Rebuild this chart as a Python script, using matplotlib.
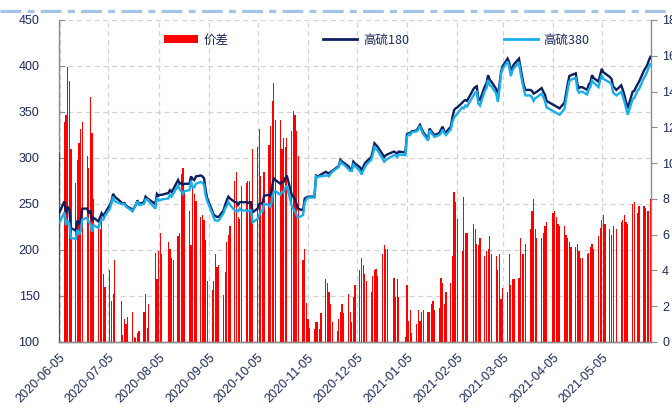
import numpy as np
import pandas as pd
import matplotlib
matplotlib.use('Agg')
import matplotlib.pyplot as plt
from matplotlib.lines import Line2D
from matplotlib.patches import Patch

# ---------------- data ----------------
holidays = ['2020-07-10', '2020-07-31', '2020-08-10', '2020-12-25', '2021-01-01',
            '2021-02-12', '2021-04-02', '2021-05-13', '2021-05-26']
dates = pd.bdate_range('2020-06-05', '2021-06-04').difference(pd.to_datetime(holidays))

hs180 = [241,
         253, 240, 247, 244, 224,
         221, 232, 228, 232, 245,
         245, 240, 243, 232, 235,
         231, 236, 240, 237, 240,
         249, 253, 261, 258,
         252, 250, 251, 248, 247,
         244, 246, 249, 254, 250,
         252, 258, 256, 255,
         250, 261, 259, 260, 260,
         262, 265, 263, 266,
         276, 272, 273, 271, 272,
         272, 280, 277, 276, 280,
         281, 280, 278, 265, 256,
         243, 238, 237, 236, 236,
         243, 249, 254, 258, 256,
         252, 252, 249, 252, 252,
         252, 251, 252, 251, 241,
         245, 250, 251, 250, 259,
         260, 258, 270, 278, 276,
         272, 274, 274, 278, 281,
         260, 258, 255, 250, 245,
         243, 256, 257, 258, 258,
         258, 281, 280, 281, 282,
         285, 284, 283, 285, 286,
         290, 291, 298, 296, 295,
         291, 288, 287, 296, 294,
         290, 287, 290, 294, 296,
         301, 308, 316, 314, 312,
         304, 301, 303, 304,
         307, 306, 305, 307,
         306, 326, 327, 327, 329,
         330, 333, 336, 332, 328,
         321, 332, 329, 327, 325,
         327, 331, 334, 329, 328,
         334, 344, 352, 354, 355,
         360, 362, 363, 362,
         375, 377, 378, 364, 363,
         378, 381, 390, 385, 383,
         375, 365, 380, 394, 400,
         408, 404, 392, 399, 402,
         408, 398, 388, 379, 374,
         374, 373, 370, 371, 372,
         376, 372, 369, 362,
         358, 357, 356, 355, 354,
         360, 370, 380, 389, 390,
         392, 380, 376, 377, 377,
         374, 380, 382, 390, 387,
         383, 390, 397, 393, 392,
         388, 386, 378, 374,
         379, 374, 368, 361, 354,
         372, 373, 380, 383,
         395, 398, 401, 406, 410]

hs380 = [230,
         241, 227, 232, 229, 213,
         212, 222, 217, 220, 233,
         235, 230, 229, 220, 227,
         224, 230, 233, 233, 237,
         245, 251, 258, 253,
         250, 250, 250, 247, 246,
         242, 246, 249, 253, 249,
         250, 255, 255, 253,
         245, 257, 254, 254, 255,
         256, 260, 258, 261,
         270, 266, 264, 261, 264,
         265, 275, 268, 268, 272,
         274, 273, 271, 259, 253,
         240, 235, 232, 232, 232,
         240, 245, 248, 252, 249,
         243, 242, 242, 245, 243,
         243, 242, 243, 243, 230,
         234, 238, 242, 242, 250,
         249, 246, 257, 263, 264,
         260, 263, 263, 267, 270,
         248, 245, 242, 238, 235,
         238, 251, 255, 257, 257,
         257, 280, 279, 280, 280,
         281, 281, 280, 283, 285,
         289, 290, 296, 294, 293,
         288, 286, 286, 293, 291,
         286, 282, 286, 290, 293,
         298, 304, 312, 310, 308,
         299, 296, 298, 299,
         303, 303, 301, 304,
         303, 323, 326, 325, 328,
         329, 331, 335, 330, 326,
         319, 330, 327, 325, 323,
         325, 327, 331, 327, 325,
         331, 339, 344, 346, 348,
         355, 354, 357, 356,
         368, 371, 372, 359, 357,
         373, 376, 385, 379, 378,
         370, 361, 375, 392, 397,
         405, 399, 389, 395, 398,
         404, 392, 383, 374, 368,
         368, 366, 362, 365, 366,
         370, 366, 362, 355,
         351, 350, 349, 348, 347,
         353, 364, 374, 383, 385,
         387, 374, 371, 372, 372,
         369, 375, 377, 384, 382,
         377, 384, 390, 386, 385,
         382, 380, 371, 368,
         372, 367, 361, 354, 347,
         364, 365, 373, 375,
         387, 390, 394, 399, 402]

spread = [10.6,
          12.3, 12.7, 15.4, 14.6, 10.8,
          8.9, 10.2, 11.1, 11.9, 12.3,
          10.4, 9.7, 13.7, 11.7, 8.0,
          6.6, 6.3, 7.0, 3.8, 3.1,
          4.0, 2.3, 2.7, 4.6,
          2.3, 0.4, 1.3, 1.0, 1.4,
          1.7, 0.3, 0.2, 0.5, 0.6,
          1.7, 2.7, 0.8, 2.1,
          5.0, 3.5, 5.1, 6.1, 4.9,
          5.6, 5.2, 4.7, 4.6,
          5.9, 6.1, 9.4, 9.7, 8.4,
          7.3, 5.4, 8.6, 8.3, 7.9,
          7.0, 7.1, 6.8, 5.7, 3.4,
          2.9, 3.4, 4.9, 4.2, 4.3,
          2.6, 3.9, 5.6, 6.0, 6.5,
          9.0, 9.5, 7.0, 6.9, 8.7,
          8.9, 9.0, 9.0, 7.9, 10.8,
          10.9, 11.9, 9.3, 8.0, 9.5,
          11.0, 12.1, 13.5, 14.5, 12.4,
          12.4, 10.8, 11.4, 10.9, 11.4,
          11.8, 12.9, 12.7, 11.8, 10.4,
          4.6, 5.2, 2.2, 1.3, 0.8,
          0.7, 1.1, 1.1, 0.7, 1.6,
          3.5, 3.3, 2.8, 2.1, 1.1,
          0.6, 1.3, 1.7, 2.1, 1.6,
          2.7, 1.7, 1.1, 2.5, 3.2,
          4.0, 4.7, 4.3, 3.8, 3.4,
          2.8, 3.7, 4.0, 4.1, 3.7,
          4.9, 5.4, 5.2, 5.2,
          3.6, 2.5, 3.5, 2.5,
          0.3, 3.2, 1.2, 1.8, 0.5,
          1.0, 1.8, 1.2, 1.7, 1.8,
          1.7, 1.7, 2.1, 2.3, 1.8,
          1.9, 3.6, 3.3, 2.1, 2.8,
          3.3, 4.8, 8.4, 7.8, 6.9,
          5.1, 8.1, 6.1, 6.1,
          6.6, 6.3, 5.5, 5.4, 5.8,
          4.8, 5.1, 5.2, 5.9, 4.9,
          4.8, 4.0, 4.9, 2.4, 3.0,
          2.8, 4.9, 3.2, 3.5, 3.5,
          3.6, 5.8, 4.9, 4.9, 5.5,
          6.3, 7.3, 8.0, 6.3, 5.8,
          5.8, 6.1, 6.5, 6.7,
          7.2, 7.3, 7.0, 6.6, 6.5,
          6.5, 6.0, 5.8, 5.6, 5.3,
          5.3, 5.5, 5.1, 4.7, 4.7,
          4.9, 5.0, 5.3, 5.5, 5.2,
          5.9, 6.4, 6.8, 7.1, 6.6,
          6.3, 6.0, 6.5, 6.3,
          6.7, 6.8, 7.1, 6.7, 6.6,
          7.7, 7.8, 7.2, 7.6,
          7.6, 7.5, 7.3, 7.3, 8.0]

xtick_labels = ['2020-06-05', '2020-07-05', '2020-08-05', '2020-09-05', '2020-10-05',
                '2020-11-05', '2020-12-05', '2021-01-05', '2021-02-05', '2021-03-05',
                '2021-04-05', '2021-05-05']
left_ticks = [100, 150, 200, 250, 300, 350, 400, 450]
right_ticks = [0, 2, 4, 6, 8, 10, 12, 14, 16, 18]
legend_labels = ['价差', '高硫180', '高硫380']

# ---------------- style ----------------
NAVY = '#1B2A5C'
C180 = '#0E1F5E'
C380 = '#17AEEB'
RED = '#FF0000'
GRID = '#D3D3D3'
SPINE = '#8C8C8C'
TICKFONT = 'Liberation Sans'

plt.rcParams['font.family'] = ['Liberation Sans', 'DejaVu Sans']

fig = plt.figure(figsize=(6.72, 4.12), dpi=100)
# base axes: left scale, grid, spines (bottom layer)
ax = fig.add_axes([59 / 672, 1 - 342 / 412, 592 / 672, 322 / 412])
# bar axes: right scale (middle layer)
ax2 = ax.twinx()
# line axes: same left scale (top layer)
ax3 = ax.twinx()

x0 = pd.Timestamp('2020-06-05') - pd.Timedelta(hours=8)
x1 = pd.Timestamp('2021-06-04') + pd.Timedelta(hours=8)

ax2.bar(dates, spread, width=0.75, color=RED, linewidth=0, zorder=1)
ax2.set_ylim(0, 18)
ax2.set_yticks(right_ticks)

ax3.plot(dates, hs180, color=C180, lw=1.7, zorder=3, solid_joinstyle='miter')
ax3.plot(dates, hs380, color=C380, lw=1.7, zorder=4, solid_joinstyle='miter')
ax3.set_ylim(100, 450)
ax3.set_yticks([])
for s in ax3.spines.values():
    s.set_visible(False)

ax.set_ylim(100, 450)
ax.set_yticks(left_ticks)

ax.set_zorder(0)
ax2.set_zorder(1)
ax3.set_zorder(2)
ax2.patch.set_visible(False)
ax3.patch.set_visible(False)

for a in (ax, ax2, ax3):
    a.set_xlim(x0, x1)

ax.set_xticks(pd.to_datetime(xtick_labels))
ax.set_xticklabels(xtick_labels, rotation=45, ha='right', va='top',
                   rotation_mode='anchor', fontsize=9, color=NAVY, family=TICKFONT)
ax2.tick_params(axis='x', which='both', bottom=False, labelbottom=False)
ax3.tick_params(axis='x', which='both', bottom=False, labelbottom=False)

# grid (behind the bars)
ax.grid(True, which='major', axis='both', color=GRID, lw=0.9, ls=(0, (4, 3)))
ax.set_axisbelow(True)

# spines
for a in (ax, ax2):
    a.spines['top'].set_visible(False)
ax.spines['right'].set_visible(False)
ax2.spines['left'].set_visible(False)
ax.spines['left'].set_color(SPINE)
ax.spines['bottom'].set_color(SPINE)
ax2.spines['right'].set_color(SPINE)
ax2.spines['bottom'].set_color(SPINE)
ax.spines['left'].set_linewidth(1.0)
ax.spines['bottom'].set_linewidth(1.0)
ax2.spines['bottom'].set_linewidth(1.0)
ax2.spines['right'].set_linewidth(1.0)

ax.tick_params(axis='y', direction='in', length=4, color=SPINE, labelsize=9,
               labelcolor=NAVY, pad=14)
ax.tick_params(axis='x', length=0, pad=7)
ax2.tick_params(axis='y', direction='out', length=4, color=SPINE, labelsize=9,
                labelcolor=NAVY, pad=4)
for lab in ax.get_yticklabels() + ax2.get_yticklabels():
    lab.set_family(TICKFONT)

# legend
handles = [Patch(facecolor=RED, edgecolor='none'),
           Line2D([0], [0], color=C180, lw=2),
           Line2D([0], [0], color=C380, lw=2)]
leg = ax3.legend(handles, legend_labels, ncol=3, frameon=False,
                 loc='center left', bbox_to_anchor=((164 - 59) / 592, (342 - 40) / 322),
                 borderpad=0, borderaxespad=0, handlelength=2.7, handleheight=0.55,
                 handletextpad=0.45, columnspacing=7.6,
                 prop={'family': ['Noto Sans CJK SC', 'DejaVu Sans'], 'size': 9})
for t in leg.get_texts():
    t.set_color(NAVY)

# decorative dashed line at the top
plt.rcParams['lines.scale_dashes'] = False
top_line = Line2D([0, 1], [1 - 11 / 412, 1 - 11 / 412], transform=fig.transFigure,
                  color='#A2C4E6', lw=2.3)
top_line.set_dashes([15, 4.5, 5, 4.5])
fig.add_artist(top_line)

fig.savefig('out.png', dpi=100)
